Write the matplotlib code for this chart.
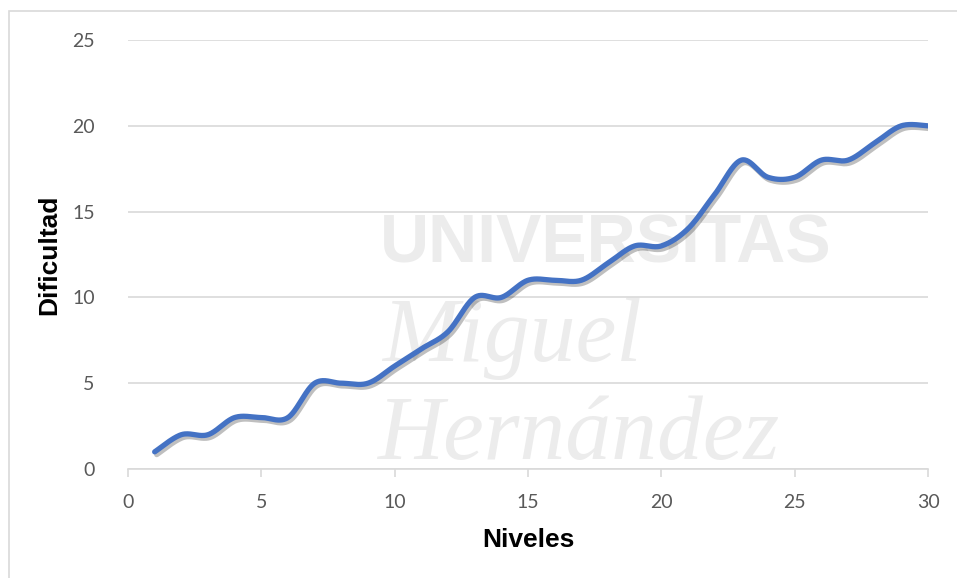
import numpy as np
import matplotlib
matplotlib.use("Agg")
import matplotlib.pyplot as plt
from matplotlib import patheffects
from matplotlib.patches import Rectangle

# Difficulty per level
niveles = list(range(1, 31))
dificultad = [1, 2, 2, 3, 3, 3, 5, 5, 5, 6,
              7, 8, 10, 10, 11, 11, 11, 12, 13, 13,
              14, 16, 18, 17, 17, 18, 18, 19, 20, 20]

x_ticks = [0, 5, 10, 15, 20, 25, 30]
y_ticks = [0, 5, 10, 15, 20, 25]

LINE_COLOR = "#4472C4"
GRID_COLOR = "#D9D9D9"
TICK_COLOR = "#595959"


def smooth_curve(xs, ys, steps=30):
    """Catmull-Rom spline through the points (spreadsheet style smoothed line)."""
    xs = np.asarray(xs, dtype=float)
    ys = np.asarray(ys, dtype=float)
    px = np.concatenate([[xs[0]], xs, [xs[-1]]])
    py = np.concatenate([[ys[0]], ys, [ys[-1]]])
    out_x, out_y = [], []
    t = np.linspace(0, 1, steps, endpoint=False)
    for i in range(1, len(px) - 2):
        x0, x1, x2, x3 = px[i - 1:i + 3]
        y0, y1, y2, y3 = py[i - 1:i + 3]
        # cubic bezier with catmull-rom control points
        cx1, cy1 = x1 + (x2 - x0) / 6, y1 + (y2 - y0) / 6
        cx2, cy2 = x2 - (x3 - x1) / 6, y2 - (y3 - y1) / 6
        a, b, c, d = (1 - t) ** 3, 3 * (1 - t) ** 2 * t, 3 * (1 - t) * t ** 2, t ** 3
        out_x.extend(a * x1 + b * cx1 + c * cx2 + d * x2)
        out_y.extend(a * y1 + b * cy1 + c * cy2 + d * y2)
    out_x.append(xs[-1])
    out_y.append(ys[-1])
    return np.array(out_x), np.array(out_y)


fig = plt.figure(figsize=(9.57, 5.78), dpi=100)
ax = fig.add_axes([128 / 957, 1 - 469 / 578, 800 / 957, 429 / 578])

# chart frame
fig.add_artist(Rectangle((9 / 957, -0.05), 1.2, 1 - 11 / 578 + 0.05,
                         transform=fig.transFigure, fill=False,
                         edgecolor=GRID_COLOR, linewidth=1.2))

# faint watermark behind the plot
wm = dict(color="#ECECEC", zorder=0, transform=ax.transData)
ax.text(17.9, 13.1, "UNIVERSITAS", fontsize=49, fontweight="bold",
        family="Liberation Sans", ha="center", va="center", **wm)
ax.text(14.4, 7.6, "Miguel", fontsize=66, style="italic",
        family="Liberation Serif", ha="center", va="center", **wm)
ax.text(16.9, 1.9, "Hernández", fontsize=66, style="italic",
        family="Liberation Serif", ha="center", va="center", **wm)

sx, sy = smooth_curve(niveles, dificultad)
ax.plot(sx, sy, color=LINE_COLOR, linewidth=3.8, solid_capstyle="round",
        zorder=3,
        path_effects=[patheffects.SimpleLineShadow(offset=(1.5, -2),
                                                   shadow_color="black",
                                                   alpha=0.25),
                      patheffects.Normal()])

ax.set_xlim(0, 30)
ax.set_ylim(0, 25)
ax.set_xticks(x_ticks)
ax.set_yticks(y_ticks)

ax.grid(axis="y", color=GRID_COLOR, linewidth=1.2, zorder=1)
ax.set_axisbelow(True)
for side in ["top", "right", "left"]:
    ax.spines[side].set_visible(False)
ax.spines["bottom"].set_color(GRID_COLOR)
ax.spines["bottom"].set_linewidth(1.2)

ax.tick_params(axis="x", colors=GRID_COLOR, length=6, width=1.2, pad=12,
               labelcolor=TICK_COLOR, labelsize=14)
ax.tick_params(axis="y", length=0, pad=24, labelcolor=TICK_COLOR,
               labelsize=14)
for lbl in ax.get_xticklabels() + ax.get_yticklabels():
    lbl.set_family("Lato")

ax.set_xlabel("Niveles", fontsize=19, fontweight="bold",
              family="Liberation Sans", color="black", labelpad=12)
ax.set_ylabel("Dificultad", fontsize=19, fontweight="bold",
              family="Liberation Sans", color="black", labelpad=8)

fig.savefig("out.png", dpi=100, facecolor="white")
